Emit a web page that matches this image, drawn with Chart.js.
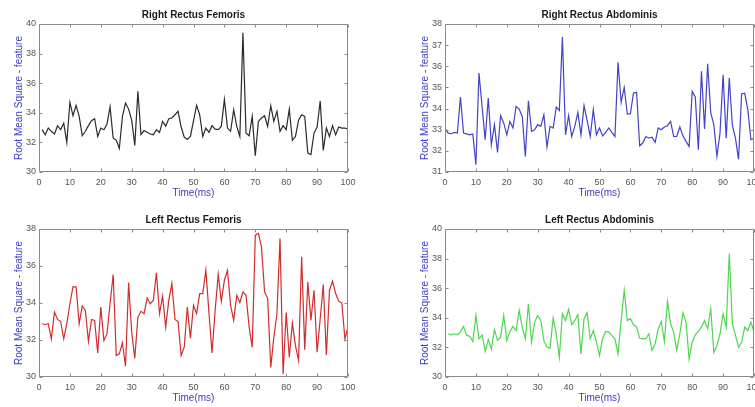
<!DOCTYPE html>
<html>
<head>
<meta charset="utf-8">
<script src="https://cdn.jsdelivr.net/npm/chart.js@4.4.1/dist/chart.umd.min.js"></script>
<style>
  html, body { margin: 0; padding: 0; background: #ffffff; width: 755px; height: 407px; overflow: hidden; }
  canvas { position: absolute; }
</style>
</head>
<body>
<canvas id="c1" width="387" height="203" style="left:0px;top:0px;"></canvas>
<canvas id="c2" width="387" height="203" style="left:406px;top:0px;"></canvas>
<canvas id="c3" width="387" height="203" style="left:0px;top:205px;"></canvas>
<canvas id="c4" width="387" height="203" style="left:406px;top:205px;"></canvas>
<script>
// ---- data ----
const titles = ["Right Rectus Femoris", "Right Rectus Abdominis", "Left Rectus Femoris", "Left Rectus Abdominis"];
const xAxisLabel = "Time(ms)";
const yAxisLabel = "Root Mean Square - feature";

const time1to100 = [1,2,3,4,5,6,7,8,9,10,11,12,13,14,15,16,17,18,19,20,21,22,23,24,25,26,27,28,29,30,31,32,33,34,35,36,37,38,39,40,41,42,43,44,45,46,47,48,49,50,51,52,53,54,55,56,57,58,59,60,61,62,63,64,65,66,67,68,69,70,71,72,73,74,75,76,77,78,79,80,81,82,83,84,85,86,87,88,89,90,91,92,93,94,95,96,97,98,99,100];
const time0to100 = [0,1,2,3,4,5,6,7,8,9,10,11,12,13,14,15,16,17,18,19,20,21,22,23,24,25,26,27,28,29,30,31,32,33,34,35,36,37,38,39,40,41,42,43,44,45,46,47,48,49,50,51,52,53,54,55,56,57,58,59,60,61,62,63,64,65,66,67,68,69,70,71,72,73,74,75,76,77,78,79,80,81,82,83,84,85,86,87,88,89,90,91,92,93,94,95,96,97,98,99,100];

const rightFemoris = [32.86,32.52,32.97,32.75,32.57,33.13,32.86,33.3,32.0,34.7,
  33.8,34.5,33.76,32.45,32.75,33.13,33.47,33.6,32.4,32.97,
  32.86,33.24,34.4,32.3,32.14,31.6,33.76,34.66,34.25,33.5,
  31.8,35.45,32.52,32.8,32.68,32.57,32.52,32.86,32.68,33.42,
  33.1,33.6,33.65,33.87,34.1,33.04,32.36,32.2,32.4,33.45,
  34.5,33.87,32.4,32.97,32.68,33.13,32.9,32.86,33.08,34.9,
  32.97,32.75,34.2,33.08,32.4,39.4,32.63,32.45,33.76,31.1,
  33.42,33.65,33.8,33.08,34.48,33.42,34.1,32.75,33.13,32.86,
  34.25,32.14,32.4,33.5,33.87,33.76,31.28,31.17,32.63,33.04,
  34.8,31.46,32.97,32.4,33.13,32.52,33.04,32.97,32.97,32.9];

const rightAbdominis = [33.08,
  32.84,32.81,32.87,32.84,34.55,32.84,32.8,32.76,32.8,31.34,
  35.68,34.1,32.53,34.5,32.29,33.24,31.93,33.66,33.32,32.76,
  33.39,33.08,34.1,33.98,33.63,31.74,34.37,32.92,33.0,33.24,
  33.16,33.71,32.18,33.16,33.08,34.07,33.91,37.38,32.76,33.66,
  32.68,33.16,33.82,32.76,34.14,33.44,32.68,33.95,32.76,33.08,
  32.71,32.87,33.08,32.87,32.68,36.19,34.3,35.0,33.74,33.76,
  34.74,34.77,32.24,32.37,32.68,32.6,32.65,32.4,33.08,33.0,
  33.13,33.19,33.39,32.68,32.68,33.13,32.71,32.45,32.21,34.81,
  34.55,32.05,35.76,33.03,36.12,33.79,33.24,31.74,32.84,35.6,
  32.6,35.44,33.2,32.6,31.6,34.7,34.73,33.95,32.53,32.6];

const leftFemoris = [32.88,32.84,32.88,32.06,33.51,33.11,33.0,32.06,32.88,33.96,
  34.87,34.87,32.88,33.84,33.6,31.92,33.11,33.06,31.3,33.78,
  31.97,32.33,33.96,35.54,31.16,31.25,31.85,30.58,35.1,32.43,
  31.01,33.24,33.55,33.42,34.27,33.96,34.14,35.63,33.42,34.38,
  32.7,34.14,35.05,33.11,33.0,31.16,31.61,33.78,32.1,33.87,
  33.42,34.51,34.51,35.77,33.48,31.3,33.6,35.54,34.09,35.23,
  35.77,33.87,33.06,34.42,34.02,34.6,34.42,32.7,31.61,37.67,
  37.76,37.04,34.6,34.24,30.52,32.15,33.42,37.49,30.16,33.48,
  31.07,32.93,31.7,30.9,36.5,31.48,35.14,33.06,34.69,31.34,
  33.15,35.0,31.19,34.69,35.18,34.51,34.1,34.0,32.06,32.7];

const leftAbdominis = [32.92,32.85,32.92,32.85,33.03,33.42,32.81,32.76,32.4,34.16,
  32.58,32.85,31.72,32.53,31.9,33.21,32.47,32.69,34.16,32.47,
  33.08,33.42,33.14,34.5,33.37,32.58,34.95,32.35,33.71,34.16,
  33.82,32.47,32.01,31.95,33.98,32.92,31.33,34.28,33.82,34.57,
  33.53,33.82,34.21,31.56,33.94,34.34,32.58,33.14,32.35,31.45,
  32.62,33.08,33.03,32.81,32.58,31.56,33.82,35.86,33.82,33.94,
  33.53,33.37,32.62,32.58,32.58,32.92,31.79,32.24,33.26,33.76,
  32.4,35.11,33.6,33.03,31.79,32.92,34.34,33.71,31.22,32.35,
  32.85,33.08,33.37,33.82,33.26,34.61,31.67,32.13,32.92,34.28,
  33.37,38.35,33.6,32.81,32.01,32.35,33.37,33.14,33.71,33.03];

const yRanges = [[30, 40, 2], [31, 38, 1], [30, 38, 2], [30, 40, 2]];
const xRange = [0, 100, 10];

// ---- rendering ----
const FONT = "'Liberation Sans', Arial, sans-serif";
const lineColors = ['#2b2b2b', '#4343c6', '#d22c2c', '#4fd64f'];
const labelBlue = '#3c3cc0';

const boxPlugin = {
  id: 'matlabBox',
  afterDatasetsDraw(chart) {
    const ctx = chart.ctx;
    const a = chart.chartArea;
    const x = chart.scales.x, y = chart.scales.y;
    const L = Math.round(a.left) + 0.5, R = Math.round(a.right) - 0.5;
    const T = Math.round(a.top) + 0.5, B = Math.round(a.bottom) - 0.5;
    ctx.save();
    ctx.strokeStyle = '#8a8a8a';
    ctx.lineWidth = 1;
    ctx.beginPath();
    ctx.rect(L, T, R - L, B - T);
    const len = 3;
    x.ticks.forEach(t => {
      const px = Math.round(x.getPixelForValue(t.value)) + 0.5;
      ctx.moveTo(px, B); ctx.lineTo(px, B - len);
      ctx.moveTo(px, T); ctx.lineTo(px, T + len);
    });
    y.ticks.forEach(t => {
      const py = Math.round(y.getPixelForValue(t.value)) + 0.5;
      ctx.moveTo(L, py); ctx.lineTo(L + len, py);
      ctx.moveTo(R, py); ctx.lineTo(R - len, py);
    });
    ctx.stroke();
    ctx.restore();
  }
};

function makeChart(id, title, xs, ys, color, yr) {
  const pts = xs.map((v, i) => ({x: v, y: ys[i]}));
  return new Chart(document.getElementById(id), {
    type: 'line',
    data: { datasets: [{ data: pts, borderColor: color, borderWidth: 1.2, pointRadius: 0, tension: 0, fill: false }] },
    options: {
      responsive: false,
      animation: false,
      devicePixelRatio: 1,
      layout: { padding: 0 },
      plugins: {
        legend: { display: false },
        tooltip: { enabled: false },
        title: {
          display: true, text: title, color: '#1a1a1a',
          font: { family: FONT, size: 10, weight: 'bold' },
          padding: { top: 9, bottom: 3 }
        }
      },
      scales: {
        x: {
          type: 'linear', position: 'bottom',
          min: xRange[0], max: xRange[1],
          grid: { display: false, drawTicks: false },
          border: { display: false },
          ticks: { stepSize: xRange[2], autoSkip: false, maxRotation: 0, padding: 5, color: '#555555', font: { family: FONT, size: 9 } },
          title: { display: true, text: xAxisLabel, color: labelBlue, font: { family: FONT, size: 10 }, padding: { top: 0, bottom: 4 } },
          afterFit(s) { s.height = 31; }
        },
        y: {
          type: 'linear', position: 'left',
          min: yr[0], max: yr[1],
          grid: { display: false, drawTicks: false },
          border: { display: false },
          ticks: { stepSize: yr[2], autoSkip: false, padding: 3, color: '#555555', font: { family: FONT, size: 9 } },
          title: { display: true, text: yAxisLabel, color: labelBlue, font: { family: FONT, size: 10 }, padding: { top: 13, bottom: 0 } },
          afterFit(s) { s.width = 39; }
        },
        yR: {
          type: 'linear', position: 'right', min: 0, max: 1,
          grid: { display: false, drawTicks: false },
          border: { display: false },
          ticks: { display: false },
          afterFit(s) { s.width = 39; }
        }
      }
    },
    plugins: [boxPlugin]
  });
}

makeChart('c1', titles[0], time1to100, rightFemoris, lineColors[0], yRanges[0]);
makeChart('c2', titles[1], time0to100, rightAbdominis, lineColors[1], yRanges[1]);
makeChart('c3', titles[2], time1to100, leftFemoris, lineColors[2], yRanges[2]);
makeChart('c4', titles[3], time1to100, leftAbdominis, lineColors[3], yRanges[3]);
</script>
</body>
</html>
